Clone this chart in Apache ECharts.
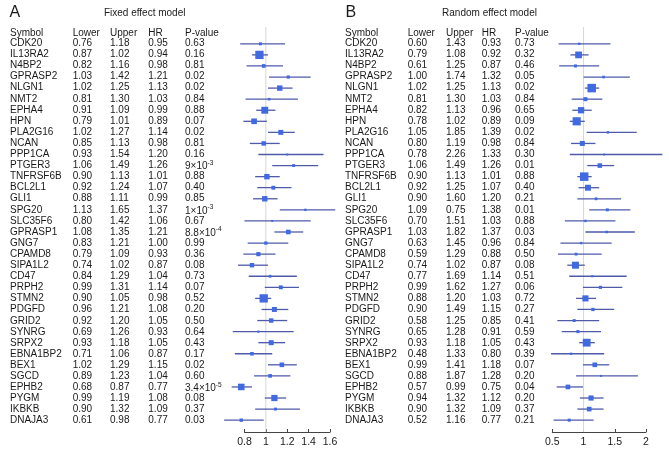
<!DOCTYPE html>
<html><head><meta charset="utf-8">
<script src="https://cdn.jsdelivr.net/npm/echarts@6/dist/echarts.min.js"></script>
<style>html,body{margin:0;padding:0;background:#fff}#c{width:669px;height:453px}</style>
</head><body><div id="c"></div>
<script>
// ---------------- data ----------------
const genes = ['CDK20','IL13RA2','N4BP2','GPRASP2','NLGN1','NMT2','EPHA4','HPN','PLA2G16','NCAN','PPP1CA','PTGER3','TNFRSF6B','BCL2L1','GLI1','SPG20','SLC35F6','GPRASP1','GNG7','CPAMD8','SIPA1L2','CD47','PRPH2','STMN2','PDGFD','GRID2','SYNRG','SRPX2','EBNA1BP2','BEX1','SGCD','EPHB2','PYGM','IKBKB','DNAJA3'];

const fixedLower = [0.76,0.87,0.82,1.03,1.02,0.81,0.91,0.79,1.02,0.85,0.93,1.06,0.90,0.92,0.88,1.13,0.80,1.08,0.83,0.79,0.74,0.84,0.99,0.90,0.96,0.92,0.69,0.93,0.71,1.02,0.89,0.68,0.99,0.90,0.61];
const fixedUpper = [1.18,1.02,1.16,1.42,1.25,1.30,1.09,1.01,1.27,1.13,1.54,1.49,1.13,1.24,1.11,1.65,1.42,1.35,1.21,1.09,1.02,1.29,1.31,1.05,1.21,1.20,1.26,1.18,1.06,1.29,1.23,0.87,1.19,1.32,0.98];
const fixedHR    = [0.95,0.94,0.98,1.21,1.13,1.03,0.99,0.89,1.14,0.98,1.20,1.26,1.01,1.07,0.99,1.37,1.06,1.21,1.00,0.93,0.87,1.04,1.14,0.98,1.08,1.05,0.93,1.05,0.87,1.15,1.04,0.77,1.08,1.09,0.77];
const fixedP     = ['0.63','0.16','0.81','0.02','0.02','0.84','0.88','0.07','0.02','0.81','0.16','9×10^-3','0.88','0.40','0.85','1×10^-3','0.67','8.8×10^-4','0.99','0.36','0.08','0.73','0.07','0.52','0.20','0.50','0.64','0.43','0.17','0.02','0.60','3.4×10^-5','0.08','0.37','0.03'];

const randLower = [0.60,0.79,0.61,1.00,1.02,0.81,0.82,0.78,1.05,0.80,0.78,1.06,0.90,0.92,0.90,1.09,0.70,1.03,0.63,0.59,0.74,0.77,0.99,0.88,0.90,0.58,0.65,0.93,0.48,0.99,0.88,0.57,0.94,0.90,0.52];
const randUpper = [1.43,1.08,1.25,1.74,1.25,1.30,1.13,1.02,1.85,1.19,2.26,1.49,1.13,1.25,1.60,1.75,1.51,1.82,1.45,1.29,1.02,1.69,1.62,1.20,1.49,1.25,1.28,1.18,1.33,1.41,1.87,0.99,1.32,1.32,1.16];
const randHR    = [0.93,0.92,0.87,1.32,1.13,1.03,0.96,0.89,1.39,0.98,1.33,1.26,1.01,1.07,1.20,1.38,1.03,1.37,0.96,0.88,0.87,1.14,1.27,1.03,1.15,0.85,0.91,1.05,0.80,1.18,1.28,0.75,1.12,1.09,0.77];
const randP     = ['0.73','0.32','0.46','0.05','0.02','0.84','0.65','0.09','0.02','0.84','0.30','0.01','0.88','0.40','0.21','0.01','0.88','0.03','0.84','0.50','0.08','0.51','0.06','0.72','0.27','0.41','0.59','0.43','0.39','0.07','0.20','0.04','0.20','0.37','0.21'];
// upper value as printed in the source table (differs from the plotted interval)
const randUpperPrinted = {SPG20: '0.75'};

const ticksA = [0.8, 1.6, 0.2];   // min, max, step
const ticksB = [0.5, 2, 0.5];

// ---------------- style ----------------
const FONT = '"Liberation Sans", Arial, Helvetica, sans-serif';
const TXT = '#1a1a1a';
const LINE_C = '#4f5aa8';
const BOX_C = '#4169e1';
const REF_C = '#d6d6d6';

const ROW_MIN = -1.52, ROW_MAX = 35.07;

function makeCI(lower, upper, hr) {
  return genes.map((g, i) => [hr[i], i, lower[i], upper[i]]);
}
function minWidth(lower, upper) {
  return Math.min(...lower.map((l, i) => upper[i] - l));
}
function renderer(maxBox, minW) {
  return function (params, api) {
    const hr = api.value(0), row = api.value(1), lo = api.value(2), hi = api.value(3);
    const a = api.coord([lo, row]), b = api.coord([hi, row]), c = api.coord([hr, row]);
    const s = Math.max(2, maxBox * minW / (hi - lo));
    return {
      type: 'group',
      children: [
        {type: 'line', shape: {x1: a[0], y1: a[1], x2: b[0], y2: b[1]}, style: {stroke: LINE_C, lineWidth: 1.3}},
        {type: 'rect', shape: {x: c[0] - s / 2, y: c[1] - s / 2, width: s, height: s}, style: {fill: BOX_C}}
      ]
    };
  };
}

// ---------------- table text ----------------
const graphics = [];
function txt(text, x, y, size) {
  graphics.push({type: 'text', x: x, y: y, silent: true,
    style: {text: text, fill: TXT, font: size + 'px ' + FONT, verticalAlign: 'middle', align: 'left'}});
}
function ptxt(s, x, y) {
  const m = s.match(/^(.*)\^(.*)$/);
  if (!m) { txt(s, x, y, 10); return; }
  graphics.push({type: 'text', x: x, y: y, silent: true,
    style: {text: '{n|' + m[1] + '}{s|' + m[2] + '}', verticalAlign: 'middle', align: 'left',
      rich: {
        n: {fill: TXT, fontSize: 10, fontFamily: FONT, lineHeight: 12, verticalAlign: 'bottom'},
        s: {fill: TXT, fontSize: 6.5, fontFamily: FONT, lineHeight: 7, verticalAlign: 'top'}
      }}});
}
function table(cols, lower, upper, hr, p, printedUpper) {
  const headerY = 33.3, row0 = 43.3, step = 11.1;
  txt('Symbol', cols[0], headerY, 10);
  txt('Lower', cols[1], headerY, 10);
  txt('Upper', cols[2], headerY, 10);
  txt('HR', cols[3], headerY, 10);
  txt('P-value', cols[4], headerY, 10);
  genes.forEach((g, i) => {
    const y = row0 + i * step;
    txt(g, cols[0], y, 10);
    txt(lower[i].toFixed(2), cols[1], y, 10);
    txt(printedUpper && printedUpper[g] ? printedUpper[g] : upper[i].toFixed(2), cols[2], y, 10);
    txt(hr[i].toFixed(2), cols[3], y, 10);
    ptxt(p[i], cols[4], y);
  });
}
txt('A', 9.5, 13, 16);
graphics.push({type: 'text', x: 144.7, y: 13.3, silent: true,
  style: {text: 'Fixed effect model', fill: TXT, font: '10px ' + FONT, align: 'center', verticalAlign: 'middle'}});
txt('B', 345.5, 13, 16);
graphics.push({type: 'text', x: 489.5, y: 13.3, silent: true,
  style: {text: 'Random effect model', fill: TXT, font: '10px ' + FONT, align: 'center', verticalAlign: 'middle'}});
table([10, 72.7, 110, 148.3, 185], fixedLower, fixedUpper, fixedHR, fixedP, null);
table([345, 407.7, 446, 481.7, 515], randLower, randUpper, randHR, randP, randUpperPrinted);

// ---------------- chart ----------------
function tickAxis(gridIndex, t) {
  return {
    type: 'value', gridIndex: gridIndex, min: t[0], max: t[1], interval: t[2],
    axisLine: {show: true, lineStyle: {color: '#444', width: 1}},
    axisTick: {show: true, inside: true, length: 3, lineStyle: {color: '#444'}},
    axisLabel: {show: true, margin: 5, color: TXT, fontSize: 10.5, fontFamily: FONT},
    splitLine: {show: false}
  };
}
const hiddenY = (gi, min, max) => ({type: 'value', gridIndex: gi, show: false, inverse: true, min: min, max: max,
  splitLine: {show: false}, axisLine: {show: false}, axisTick: {show: false}, axisLabel: {show: false}});
const hiddenX = (gi, min, max) => ({type: 'value', gridIndex: gi, show: false, min: min, max: max,
  splitLine: {show: false}});

const option = {
  animation: false,
  backgroundColor: '#ffffff',
  grid: [
    {left: 223.1, top: 27, width: 112.2, height: 405},
    {left: 244.5, top: 431, width: 85.5, height: 1},
    {left: 549.2, top: 27, width: 115.6, height: 405},
    {left: 552.3, top: 431, width: 93.7, height: 1}
  ],
  xAxis: [
    hiddenX(0, 0.6, 1.65),
    tickAxis(1, ticksA),
    hiddenX(2, 0.45, 2.3),
    tickAxis(3, ticksB)
  ],
  yAxis: [
    hiddenY(0, ROW_MIN, ROW_MAX),
    {type: 'value', gridIndex: 1, show: false, min: 0, max: 1},
    hiddenY(2, ROW_MIN, ROW_MAX),
    {type: 'value', gridIndex: 3, show: false, min: 0, max: 1}
  ],
  graphic: graphics,
  series: [
    {type: 'line', xAxisIndex: 0, yAxisIndex: 0, data: [[1, ROW_MIN], [1, ROW_MAX]], symbol: 'none', silent: true,
      lineStyle: {color: REF_C, width: 1}, z: 1},
    {type: 'custom', xAxisIndex: 0, yAxisIndex: 0, data: makeCI(fixedLower, fixedUpper, fixedHR),
      encode: {x: [0, 2, 3], y: 1}, renderItem: renderer(8.3, minWidth(fixedLower, fixedUpper)), z: 2, silent: true},
    {type: 'scatter', xAxisIndex: 1, yAxisIndex: 1, data: [], silent: true},
    {type: 'line', xAxisIndex: 2, yAxisIndex: 2, data: [[1, ROW_MIN], [1, ROW_MAX]], symbol: 'none', silent: true,
      lineStyle: {color: REF_C, width: 1}, z: 1},
    {type: 'custom', xAxisIndex: 2, yAxisIndex: 2, data: makeCI(randLower, randUpper, randHR),
      encode: {x: [0, 2, 3], y: 1}, renderItem: renderer(8.5, minWidth(randLower, randUpper)), z: 2, silent: true},
    {type: 'scatter', xAxisIndex: 3, yAxisIndex: 3, data: [], silent: true}
  ]
};
const chart = echarts.init(document.getElementById('c'), null, {renderer: 'canvas'});
chart.setOption(option);
</script>
</body></html>
